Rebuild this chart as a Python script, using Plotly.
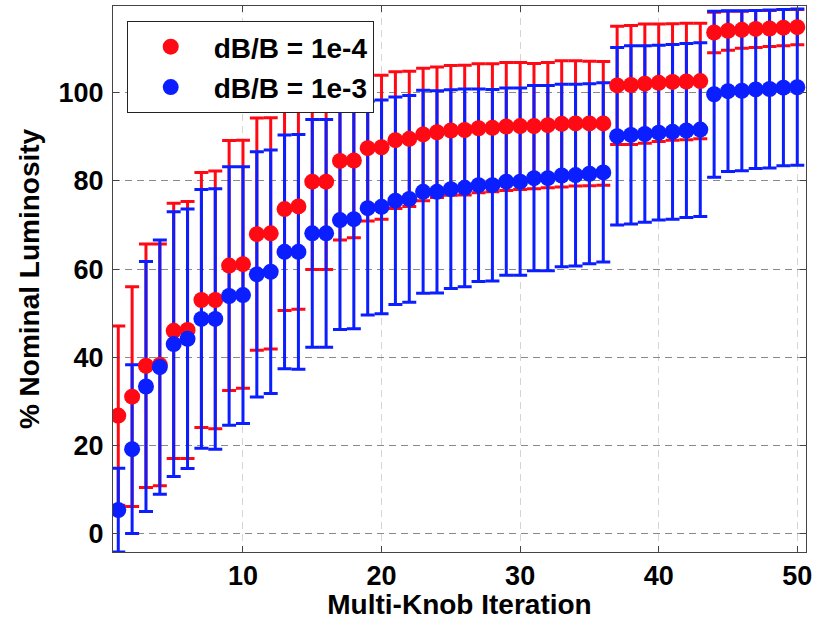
import plotly.graph_objects as go

iterations = list(range(1, 51))

red_mean = [26.8, 31.1, 38.1, 38.3, 46.0, 46.2, 53.0, 53.0, 60.8, 61.1,
            67.9, 68.1, 73.6, 74.2, 79.8, 79.8, 84.5, 84.6, 87.4, 87.6,
            89.2, 89.5, 90.5, 91.0, 91.4, 91.5, 91.9, 92.0, 92.3, 92.4,
            92.4, 92.6, 92.9, 93.0, 93.0, 93.0, 101.6, 101.7, 102.0, 102.2,
            102.4, 102.5, 102.6, 113.6, 114.0, 114.2, 114.4, 114.5, 114.7, 114.8]
red_err = [20.3, 24.9, 27.6, 27.4, 28.9, 29.1, 28.9, 29.2, 28.3, 28.1,
           26.3, 26.2, 23.0, 23.3, 19.9, 19.9, 17.9, 17.5, 16.5, 16.3,
           15.5, 15.3, 15.0, 14.8, 14.7, 14.7, 14.6, 14.5, 14.5, 14.4,
           14.2, 14.2, 14.3, 14.2, 14.1, 14.0, 13.4, 13.5, 13.5, 13.3,
           13.2, 13.2, 13.1, 4.6, 4.4, 4.2, 4.2, 4.1, 4.1, 4.0]

blue_mean = [5.4, 19.2, 33.4, 37.8, 43.0, 44.2, 48.7, 48.7, 53.9, 54.1,
             58.8, 59.4, 63.9, 63.9, 68.1, 68.1, 71.1, 71.3, 73.8, 74.1,
             75.5, 75.9, 77.5, 77.5, 78.1, 78.4, 79.0, 79.0, 79.8, 79.8,
             80.6, 80.6, 81.2, 81.3, 81.6, 81.9, 90.1, 90.4, 90.6, 90.9,
             91.1, 91.4, 91.6, 99.6, 100.3, 100.4, 100.7, 100.8, 101.1, 101.2]
blue_err = [9.5, 19.1, 28.3, 28.8, 30.0, 29.4, 29.3, 29.5, 29.3, 29.1,
            27.8, 27.6, 26.5, 26.6, 25.8, 25.8, 24.8, 24.8, 24.2, 24.2,
            23.5, 23.4, 23.0, 22.9, 22.5, 22.4, 21.8, 21.7, 21.2, 21.2,
            21.0, 21.0, 20.7, 20.6, 20.4, 20.3, 20.1, 20.2, 20.0, 19.8,
            19.8, 19.7, 19.7, 18.8, 18.2, 18.1, 17.9, 17.9, 17.7, 17.7]

labels = ["dB/B = 1e-4", "dB/B = 1e-3"]
x_ticks = [10, 20, 30, 40, 50]
y_ticks = [0, 20, 40, 60, 80, 100]

RED = "#ff0a14"
BLUE = "#0a1eff"
FONT = "Liberation Sans"

fig = go.Figure()

# error bars first (red then blue), markers on top
for mean, err, col in [(red_mean, red_err, RED), (blue_mean, blue_err, BLUE)]:
    fig.add_trace(go.Scatter(
        x=iterations, y=mean, mode="markers",
        marker=dict(size=1, color="rgba(0,0,0,0)"),
        error_y=dict(type="data", array=err, symmetric=True, color=col,
                     thickness=3, width=7),
        showlegend=False, hoverinfo="skip"))

for mean, col, name, grp in [(red_mean, RED, labels[0], "a"), (blue_mean, BLUE, labels[1], "b")]:
    fig.add_trace(go.Scatter(
        x=iterations, y=mean, mode="markers", name=name, legendgroup=grp,
        marker=dict(size=16, color=col, line=dict(width=0))))

axis_common = dict(
    showline=True, linecolor="#444", linewidth=1, mirror="ticks",
    ticks="inside", ticklen=6, tickcolor="#444", tickwidth=1,
    showgrid=True, gridwidth=1, zeroline=False, automargin=False,
    tickfont=dict(family=FONT, size=27, color="black", weight="bold"),
)

fig.update_layout(
    width=824, height=620,
    margin=dict(l=113, r=18, t=6, b=68),
    paper_bgcolor="white", plot_bgcolor="white",
    font=dict(family=FONT, color="black"),
    xaxis=dict(range=[0.62, 50.63], tickvals=x_ticks,
               gridcolor="#d4d4d4", griddash="7px,5px",
               title=dict(text="Multi-Knob Iteration", standoff=4,
                          font=dict(family=FONT, size=28, color="black", weight="bold")),
               **axis_common),
    yaxis=dict(range=[-4.1, 119.6], tickvals=y_ticks,
               gridcolor="#8a8a8a", griddash="7px,5px",
               ticklabelstandoff=3,
               title=dict(text="% Nominal Luminosity", standoff=10,
                          font=dict(family=FONT, size=28, color="black", weight="bold")),
               **axis_common),
    legend=dict(x=0.0198, y=0.9725, xanchor="left", yanchor="top",
                bgcolor="white", bordercolor="#222", borderwidth=1,
                font=dict(family=FONT, size=28, color="black", weight="bold"),
                traceorder="grouped", tracegroupgap=1, itemwidth=76),
)

fig.write_html("out.html", config={"displayModeBar": False},
               post_script="document.body.style.margin='0px';")
